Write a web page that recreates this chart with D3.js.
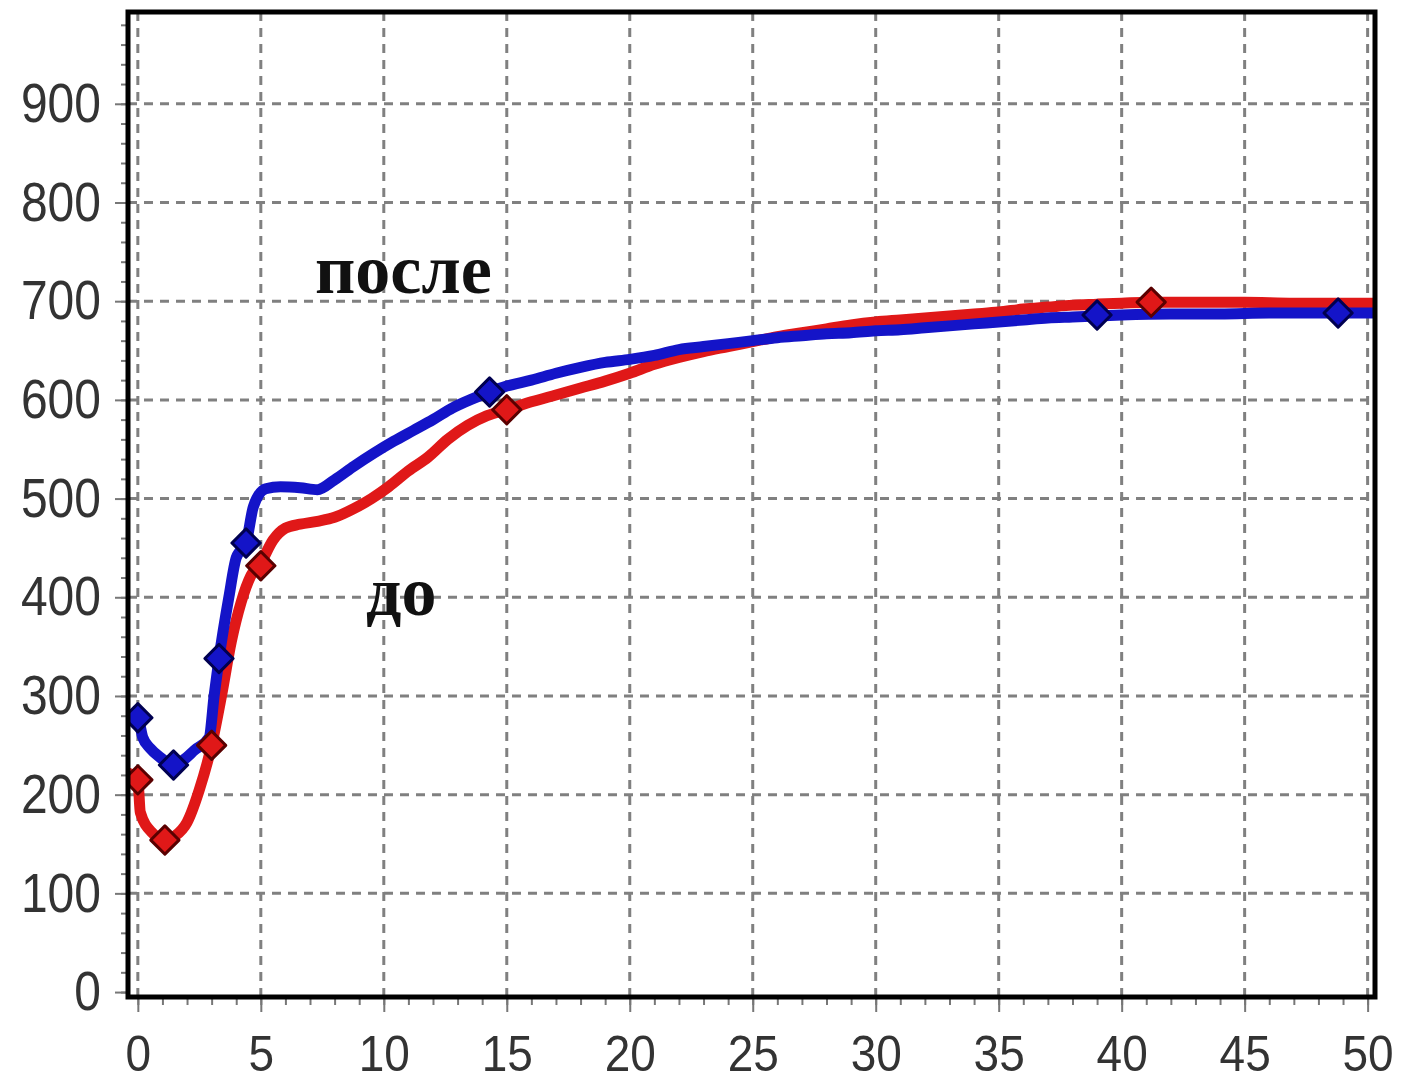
<!DOCTYPE html>
<html>
<head>
<meta charset="utf-8">
<script src="https://cdn.jsdelivr.net/npm/d3@7"></script>
<style>
  body { margin: 0; background: #fff; }
  svg { display: block; }
</style>
</head>
<body>
<div id="chart"></div>
<script>
/* CONSTANTS AND GLOBALS */
const width = 1402,
  height = 1088,
  margin = { top: 12, bottom: 91, left: 128, right: 27 };

// tick labels
const xTicks = [0, 5, 10, 15, 20, 25, 30, 35, 40, 45, 50];
const yTicks = [0, 100, 200, 300, 400, 500, 600, 700, 800, 900];

// "до" (red)
const beforeX = [-0.4, 0, 0.1, 0.6, 1.1, 1.5, 2.0, 2.5, 3.0, 3.4, 3.8, 4.2, 4.6, 5.0, 5.5, 6.0, 6.6, 7.3, 8.0, 8.8, 9.5, 10.2, 11.0, 11.8, 12.6, 13.4, 14.2, 15.0, 16.0, 17.0, 18.0, 19.0, 20.0, 21.0, 22.0, 23.0, 24.0, 25.0, 26.0, 27.0, 28.0, 29.0, 30.0, 31.0, 32.0, 33.0, 34.0, 35.0, 36.0, 37.0, 38.0, 39.0, 40.0, 41.2, 43.0, 45.0, 47.0, 50.3];
const beforeY = [222, 215, 182, 161, 154, 158, 172, 205, 250, 300, 355, 395, 422, 435, 458, 470, 474, 477, 481, 490, 500, 512, 528, 542, 560, 574, 584, 590, 598, 605, 612, 619, 627, 636, 643, 649, 654, 659, 664, 668, 672, 676, 679, 681, 683, 685, 687, 689, 692, 694, 696, 697, 698, 699, 699, 699, 698, 698];
const beforeMarkX = [0, 1.1, 3.0, 5.0, 15.0, 41.2];
const beforeMarkY = [215, 154, 250, 432, 590, 699];

// "после" (blue)
const afterX = [-0.3, 0, 0.2, 0.5, 1.0, 1.45, 1.9, 2.3, 2.9, 3.1, 3.3, 3.7, 4.0, 4.4, 4.7, 5.2, 5.8, 6.6, 7.3, 8.0, 8.8, 9.6, 10.4, 11.2, 12.0, 12.8, 13.6, 14.3, 15.0, 16.0, 17.0, 18.0, 19.0, 20.0, 21.0, 22.0, 23.0, 24.0, 25.0, 26.0, 27.0, 28.0, 29.0, 30.0, 31.0, 32.0, 33.0, 34.0, 35.0, 36.0, 37.0, 38.0, 39.0, 40.0, 42.0, 44.0, 46.0, 48.8, 50.3];
const afterY = [278, 277, 258, 247, 236, 228, 236, 245, 258, 300, 338, 400, 440, 455, 492, 510, 512, 511, 509, 519, 533, 546, 558, 569, 580, 592, 601, 608, 614, 620, 627, 633, 638, 641, 645, 651, 654, 657, 660, 663, 665, 667, 668, 670, 671, 673, 675, 677, 679, 681, 683, 684, 685, 686, 687, 687, 688, 688, 688];
const afterMarkX = [0, 1.45, 3.3, 4.4, 14.3, 39.0, 48.8];
const afterMarkY = [278, 230, 338, 455, 608, 686, 688];

const series = [
  { name: "до", color: "#e01818", edge: "#5a0000", xs: beforeX, ys: beforeY, mx: beforeMarkX, my: beforeMarkY },
  { name: "после", color: "#1414c8", edge: "#000050", xs: afterX, ys: afterY, mx: afterMarkX, my: afterMarkY }
];

/* SCALES */
const xScale = d3.scaleLinear()
  .domain([-0.4, 50.3])
  .range([margin.left, width - margin.right]);

const yScale = d3.scaleLinear()
  .domain([-5, 993])
  .range([height - margin.bottom, margin.top]);

const svg = d3.select("#chart")
  .append("svg")
  .attr("width", width)
  .attr("height", height);

// grid
svg.append("g")
  .selectAll("line")
  .data(xTicks)
  .join("line")
  .attr("x1", d => xScale(d)).attr("x2", d => xScale(d))
  .attr("y1", margin.top).attr("y2", height - margin.bottom)
  .attr("stroke", "#808080").attr("stroke-width", 3)
  .attr("stroke-dasharray", "9,7");

svg.append("g")
  .selectAll("line")
  .data(yTicks.filter(d => d > 0))
  .join("line")
  .attr("x1", margin.left).attr("x2", width - margin.right)
  .attr("y1", d => yScale(d)).attr("y2", d => yScale(d))
  .attr("stroke", "#808080").attr("stroke-width", 3)
  .attr("stroke-dasharray", "9,7");

// minor ticks
svg.append("g")
  .attr("transform", `translate(${margin.left},0)`)
  .call(d3.axisLeft(yScale).tickValues(d3.range(0, 981, 20)).tickSize(7).tickFormat(""))
  .call(g => g.select(".domain").remove())
  .call(g => g.selectAll("line").attr("stroke", "#777").attr("stroke-width", 2));

svg.append("g")
  .attr("transform", `translate(0,${height - margin.bottom})`)
  .call(d3.axisBottom(xScale).tickValues(d3.range(0, 51, 1)).tickSize(8).tickFormat(""))
  .call(g => g.select(".domain").remove())
  .call(g => g.selectAll("line").attr("stroke", "#777").attr("stroke-width", 2));

// major ticks + labels
svg.append("g")
  .attr("transform", `translate(${margin.left},0)`)
  .call(d3.axisLeft(yScale).tickValues(yTicks).tickSize(13).tickPadding(14))
  .call(g => g.select(".domain").remove())
  .call(g => g.selectAll("line").attr("stroke", "#777").attr("stroke-width", 2))
  .call(g => g.selectAll("text")
    .attr("font-family", "Liberation Sans, Arial, sans-serif")
    .attr("font-size", 48)
    .attr("fill", "#333")
    .attr("transform", "scale(1,1.15)"));

svg.append("g")
  .attr("transform", `translate(0,${height - margin.bottom})`)
  .call(d3.axisBottom(xScale).tickValues(xTicks).tickSize(15).tickPadding(20))
  .call(g => g.select(".domain").remove())
  .call(g => g.selectAll("line").attr("stroke", "#777").attr("stroke-width", 2))
  .call(g => g.selectAll("text")
    .attr("font-family", "Liberation Sans, Arial, sans-serif")
    .attr("font-size", 46)
    .attr("fill", "#333")
    .attr("transform", "scale(1,1.1)"));

// lines
const line = d3.line()
  .x(d => xScale(d[0]))
  .y(d => yScale(d[1]))
  .curve(d3.curveMonotoneX);

svg.append("defs").append("clipPath").attr("id", "clip")
  .append("rect")
  .attr("x", margin.left).attr("y", margin.top)
  .attr("width", width - margin.left - margin.right)
  .attr("height", height - margin.top - margin.bottom);

const plot = svg.append("g").attr("clip-path", "url(#clip)");

series.forEach(s => {
  plot.append("path")
    .datum(s.xs.map((x, i) => [x, s.ys[i]]))
    .attr("fill", "none")
    .attr("stroke", s.color)
    .attr("stroke-width", 11)
    .attr("stroke-linejoin", "round")
    .attr("stroke-linecap", "round")
    .attr("d", line);
});

series.forEach(s => {
  plot.append("g")
    .selectAll("path")
    .data(s.mx.map((x, i) => [x, s.my[i]]))
    .join("path")
    .attr("d", d3.symbol(d3.symbolSquare, 400))
    .attr("transform", d => `translate(${xScale(d[0])},${yScale(d[1])}) rotate(45)`)
    .attr("fill", s.color)
    .attr("stroke", s.edge)
    .attr("stroke-width", 3)
    .attr("stroke-linejoin", "round");
});

// frame
svg.append("rect")
  .attr("x", margin.left).attr("y", margin.top)
  .attr("width", width - margin.left - margin.right)
  .attr("height", height - margin.top - margin.bottom)
  .attr("fill", "none")
  .attr("stroke", "#000")
  .attr("stroke-width", 5);

// labels
svg.append("text")
  .attr("x", 315).attr("y", 293)
  .attr("font-family", "Liberation Serif, Times New Roman, serif")
  .attr("font-weight", "bold")
  .attr("font-size", 70)
  .attr("fill", "#111")
  .text("после");

svg.append("text")
  .attr("x", 366).attr("y", 615)
  .attr("font-family", "Liberation Serif, Times New Roman, serif")
  .attr("font-weight", "bold")
  .attr("font-size", 70)
  .attr("fill", "#111")
  .text("до");
</script>
</body>
</html>
